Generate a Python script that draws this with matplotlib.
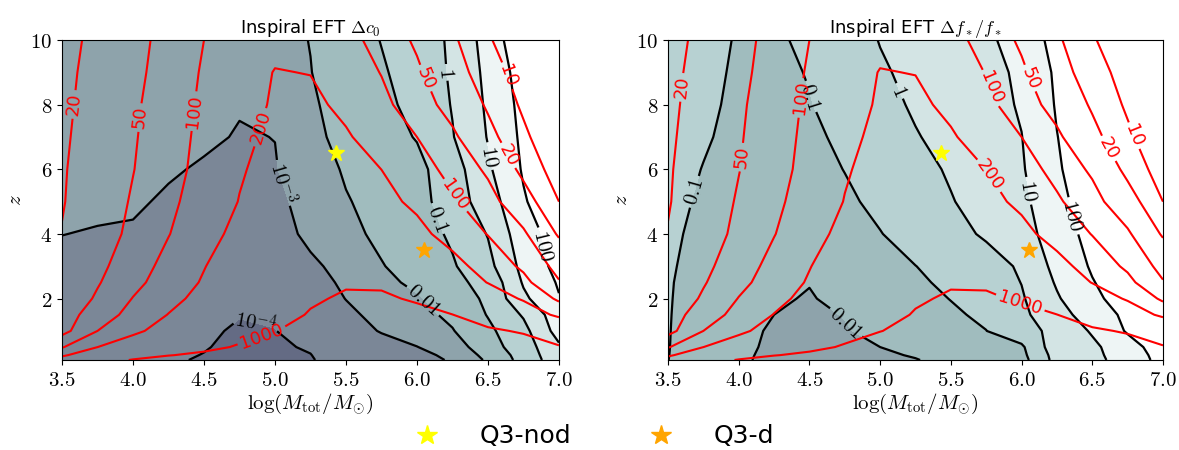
import numpy as np
import matplotlib
matplotlib.use("Agg")
import matplotlib.pyplot as plt
from matplotlib.ticker import FuncFormatter

plt.rcParams["mathtext.fontset"] = "cm"
plt.rcParams["font.family"] = "DejaVu Sans"
plt.rcParams["contour.negative_linestyle"] = "solid"

# grid nodes
log_mass = [3.5, 3.75, 4.0, 4.25, 4.5, 4.75, 5.0, 5.25, 5.5, 5.75, 6.0, 6.25, 6.5, 6.75, 7.0]
redshift = [0.1, 0.25, 0.5, 1, 1.5, 2, 2.5, 3, 4, 5, 6, 7, 8, 9, 10]

# log10(SNR), one row per redshift
log_snr = [
    [2.45, 2.78, 3.03, 3.2, 3.32, 3.42, 3.5, 3.57, 3.62, 3.65, 3.66, 3.63, 3.55, 3.45, 3.32],
    [2.25, 2.55, 2.8, 2.98, 3.1, 3.2, 3.3, 3.4, 3.47, 3.52, 3.53, 3.5, 3.42, 3.3, 3.15],
    [1.98, 2.30, 2.49, 2.68, 2.87, 3.05, 3.2, 3.32, 3.4, 3.44, 3.45, 3.4, 3.3, 3.18, 3.03],
    [1.6, 2.0, 2.235, 2.435, 2.62, 2.81, 2.99, 3.12, 3.22, 3.25, 3.23, 3.16, 3.06, 2.96, 2.75],
    [1.56, 1.845, 2.10, 2.31, 2.49, 2.67, 2.85, 3.03, 3.15, 3.15, 3.10, 3.005, 2.80, 2.55, 2.22],
    [1.47, 1.74, 2.01, 2.21, 2.40, 2.58, 2.78, 2.95, 3.05, 3.05, 2.96, 2.75, 2.52, 2.26, 1.95],
    [1.43, 1.675, 1.92, 2.14, 2.33, 2.55, 2.75, 2.88, 2.96, 2.95, 2.76, 2.53, 2.29, 2.08, 1.72],
    [1.385, 1.625, 1.865, 2.09, 2.29, 2.48, 2.66, 2.77, 2.80, 2.76, 2.62, 2.40, 2.18, 1.95, 1.60],
    [1.315, 1.55, 1.77, 1.99, 2.2, 2.38, 2.52, 2.60, 2.58, 2.50, 2.38, 2.19, 1.99, 1.75, 1.26],
    [1.28, 1.51, 1.73, 1.94, 2.13, 2.31, 2.46, 2.52, 2.48, 2.38, 2.245, 2.04, 1.82, 1.46, 1.0],
    [1.27, 1.48, 1.69, 1.90, 2.09, 2.275, 2.40, 2.45, 2.40, 2.30, 2.12, 1.915, 1.645, 1.21, 0.85],
    [1.25, 1.46, 1.67, 1.88, 2.07, 2.24, 2.36, 2.40, 2.33, 2.175, 2.0, 1.76, 1.40, 1.06, 0.75],
    [1.23, 1.44, 1.65, 1.86, 2.05, 2.2, 2.33, 2.36, 2.24, 2.07, 1.855, 1.575, 1.26, 0.95, 0.65],
    [1.21, 1.42, 1.62, 1.83, 2.03, 2.19, 2.31, 2.295, 2.15, 1.99, 1.75, 1.45, 1.13, 0.88, 0.6],
    [1.185, 1.39, 1.60, 1.80, 2.0, 2.14, 2.24, 2.22, 2.10, 1.89, 1.65, 1.35, 1.04, 0.72, 0.4],
]

# log10(Delta c0)
log_dc0 = [
    [-3.67, -3.77, -3.87, -3.96, -4.03, -4.12, -4.12, -4.03, -3.8, -3.55, -3.35, -2.9, -1.85, -0.65, 0.6],
    [-3.65, -3.75, -3.85, -3.94, -4.01, -4.1, -4.1, -4.01, -3.75, -3.45, -3.3, -2.75, -1.7, -0.6, 0.7],
    [-3.62, -3.72, -3.82, -3.92, -3.98, -4.08, -4.06, -3.96, -3.6, -3.3, -3.02, -2.5, -1.4, -0.5, 0.85],
    [-3.58, -3.68, -3.78, -3.88, -3.96, -4.03, -4.01, -3.8, -3.35, -2.95, -2.55, -2.05, -1.2, -0.3, 1.4],
    [-3.5, -3.62, -3.73, -3.83, -3.92, -3.99, -3.95, -3.7, -3.2, -2.72, -2.3, -1.8, -0.95, 0.1, 1.6],
    [-3.4, -3.55, -3.68, -3.8, -3.88, -3.95, -3.9, -3.55, -2.98, -2.5, -2.12, -1.45, -0.85, 0.8, 1.95],
    [-3.3, -3.45, -3.6, -3.72, -3.82, -3.9, -3.8, -3.4, -2.82, -2.3, -1.75, -1.2, -0.75, 1.1, 2.1],
    [-3.2, -3.35, -3.5, -3.65, -3.75, -3.85, -3.7, -3.2, -2.65, -2.05, -1.6, -1.1, -0.3, 1.3, 2.3],
    [-2.99, -3.05, -3.08, -3.25, -3.45, -3.6, -3.45, -2.75, -2.25, -1.8, -1.45, -0.85, 0.05, 1.6, 2.4],
    [-2.8, -2.85, -2.9, -3.1, -3.3, -3.45, -3.25, -2.6, -2.06, -1.7, -1.35, -0.5, 0.5, 1.9, 2.8],
    [-2.7, -2.75, -2.82, -2.92, -3.08, -3.25, -3.05, -2.45, -1.9, -1.55, -1.25, -0.45, 0.85, 2.1, 2.9],
    [-2.6, -2.65, -2.7, -2.78, -2.88, -3.05, -2.99, -2.25, -1.7, -1.35, -0.95, -0.05, 1.05, 2.2, 3.0],
    [-2.55, -2.6, -2.65, -2.7, -2.8, -2.95, -2.7, -2.12, -1.65, -1.25, -0.7, 0.05, 1.15, 2.3, 3.2],
    [-2.5, -2.5, -2.5, -2.5, -2.45, -2.35, -2.25, -2.02, -1.55, -1.1, -0.6, 0.12, 1.25, 2.45, 3.4],
    [-2.5, -2.5, -2.5, -2.5, -2.45, -2.35, -2.25, -1.98, -1.47, -0.97, -0.5, 0.15, 1.4, 2.75, 3.6],
]

# log10(Delta f*/f*)
log_dfstar = [
    [-0.99, -1.53, -1.9, -2.16, -2.35, -2.28, -2.15, -2.03, -1.8, -1.55, -1.35, 0.35, 0.7, 1.45, 2.3],
    [-0.98, -1.52, -1.88, -2.15, -2.33, -2.25, -2.1, -1.95, -1.7, -1.45, -1.25, 0.4, 0.75, 1.5, 2.35],
    [-0.97, -1.5, -1.85, -2.12, -2.3, -2.18, -2.0, -1.75, -1.5, -1.27, -1.15, 0.6, 0.8, 1.6, 2.5],
    [-0.96, -1.48, -1.82, -2.08, -2.25, -2.05, -1.82, -1.55, -1.27, -1.01, -0.4, 0.3, 1.1, 2.1, 2.6],
    [-0.95, -1.45, -1.78, -2.0, -2.15, -1.97, -1.7, -1.4, -1.12, -0.85, -0.2, 0.6, 1.5, 2.2, 2.75],
    [-0.94, -1.4, -1.72, -1.93, -2.04, -1.85, -1.55, -1.25, -0.98, -0.65, -0.1, 0.9, 1.8, 2.4, 2.9],
    [-0.93, -1.35, -1.68, -1.9, -1.98, -1.78, -1.45, -1.12, -0.85, -0.55, 0.02, 1.1, 1.95, 2.55, 3.05],
    [-0.9, -1.3, -1.62, -1.85, -1.88, -1.65, -1.32, -1.01, -0.7, -0.38, 0.12, 1.3, 2.1, 2.7, 3.2],
    [-0.85, -1.2, -1.5, -1.75, -1.68, -1.38, -1.03, -0.65, -0.3, 0.12, 0.55, 1.55, 2.3, 2.9, 3.4],
    [-0.8, -1.1, -1.38, -1.62, -1.48, -1.15, -0.8, -0.45, -0.05, 0.35, 0.75, 1.75, 2.45, 3.05, 3.55],
    [-0.75, -1.02, -1.28, -1.5, -1.3, -0.98, -0.65, -0.28, 0.1, 0.42, 0.9, 1.9, 2.55, 3.15, 3.65],
    [-0.7, -0.93, -1.18, -1.38, -1.15, -0.85, -0.45, -0.05, 0.25, 0.52, 0.98, 1.98, 2.65, 3.25, 3.75],
    [-0.68, -0.88, -1.12, -1.28, -1.04, -0.65, -0.25, 0.1, 0.38, 0.62, 1.1, 2.08, 2.75, 3.35, 3.85],
    [-0.65, -0.85, -1.08, -1.22, -0.95, -0.52, -0.1, 0.2, 0.45, 0.65, 1.2, 2.15, 2.85, 3.45, 3.95],
    [-0.6, -0.8, -1.05, -1.15, -0.8, -0.4, 0.03, 0.3, 0.55, 0.8, 1.45, 2.3, 3.0, 3.6, 4.1],
]

snr_levels = [10, 20, 50, 100, 200, 1000]
err_levels = [1e-4, 1e-3, 1e-2, 1e-1, 1, 10, 100]
band_colors = ["#646b84", "#7b8797", "#8ea3ab", "#a0bcbe", "#b7d1d2",
               "#d3e4e4", "#eef5f5", "#ffffff"]

sources = {"Q3-nod": (5.43, 6.5, "yellow"), "Q3-d": (6.05, 3.5, "orange")}


def err_fmt(v):
    e = int(round(v))
    if e <= -3:
        return r"$10^{%d}$" % e
    return "$%g$" % (10.0 ** e)


def snr_fmt(v):
    return "%d" % round(10.0 ** v)


def draw_panel(ax, err, title, err_labels, snr_labels):
    X, Z = np.meshgrid(log_mass, redshift)
    lev = np.log10(err_levels)
    ax.contourf(X, Z, np.array(err), levels=np.concatenate(([-10], lev, [10])),
                colors=band_colors)
    cs = ax.contour(X, Z, np.array(err), levels=lev, colors="black", linewidths=1.6)
    ax.clabel(cs, fmt=err_fmt, fontsize=15, inline=True, inline_spacing=3,
              manual=err_labels)
    cr = ax.contour(X, Z, np.array(log_snr), levels=np.log10(snr_levels),
                    colors="red", linewidths=1.5)
    ax.clabel(cr, fmt=snr_fmt, fontsize=13, inline=True, inline_spacing=3,
              manual=snr_labels)
    for name, (x, z, c) in sources.items():
        ax.plot(x, z, marker="*", color=c, markersize=12, linestyle="none",
                label=name, zorder=5)
    ax.set_xlim(3.5, 7.0)
    ax.set_ylim(0.1, 10)
    ax.set_xticks([3.5, 4.0, 4.5, 5.0, 5.5, 6.0, 6.5, 7.0])
    ax.set_yticks([2, 4, 6, 8, 10])
    ax.xaxis.set_major_formatter(FuncFormatter(lambda v, p: "$%.1f$" % v))
    ax.yaxis.set_major_formatter(FuncFormatter(lambda v, p: "$%d$" % v))
    ax.tick_params(labelsize=15)
    ax.set_xlabel(r"$\log(M_{\rm tot}/M_{\odot})$", fontsize=15, labelpad=1)
    ax.set_ylabel(r"$z$", fontsize=15)
    ax.set_title(title, fontsize=13, pad=5)


fig = plt.figure(figsize=(11.79, 4.5), dpi=100)
ax1 = fig.add_axes([0.0526, 0.2, 0.4215, 0.711])
ax2 = fig.add_axes([0.5666, 0.2, 0.4198, 0.711])

draw_panel(
    ax1, log_dc0, r"Inspiral EFT $\Delta c_0$",
    [(4.88, 1.55), (5.07, 5.6), (6.07, 2.05), (6.16, 4.5), (6.21, 9.0), (6.5, 6.4), (6.86, 3.6)],
    [(3.6, 8.0), (4.05, 7.6), (4.43, 7.8), (4.82, 7.4), (4.9, 0.93), (6.25, 5.14),
     (6.07, 8.84), (6.63, 6.4), (6.6, 8.84)],
)
draw_panel(
    ax2, log_dfstar, r"Inspiral EFT $\Delta f_*/f_*$",
    [(3.65, 5.35), (4.48, 8.22), (5.14, 8.43), (4.74, 1.19), (6.07, 5.35), (6.34, 4.53)],
    [(3.61, 8.53), (4.01, 6.38), (4.42, 8.22), (5.79, 5.86), (5.79, 8.53), (6.07, 8.84),
     (6.63, 6.68), (6.83, 7.1), (5.99, 1.86)],
)

handles, labels = ax1.get_legend_handles_labels()
fig.legend(handles, labels, loc="center", ncol=2, frameon=False, fontsize=18,
           markerscale=1.2, handletextpad=1.1, columnspacing=2.6,
           bbox_to_anchor=(0.499, 0.03))

fig.savefig("out.png", dpi=100)
